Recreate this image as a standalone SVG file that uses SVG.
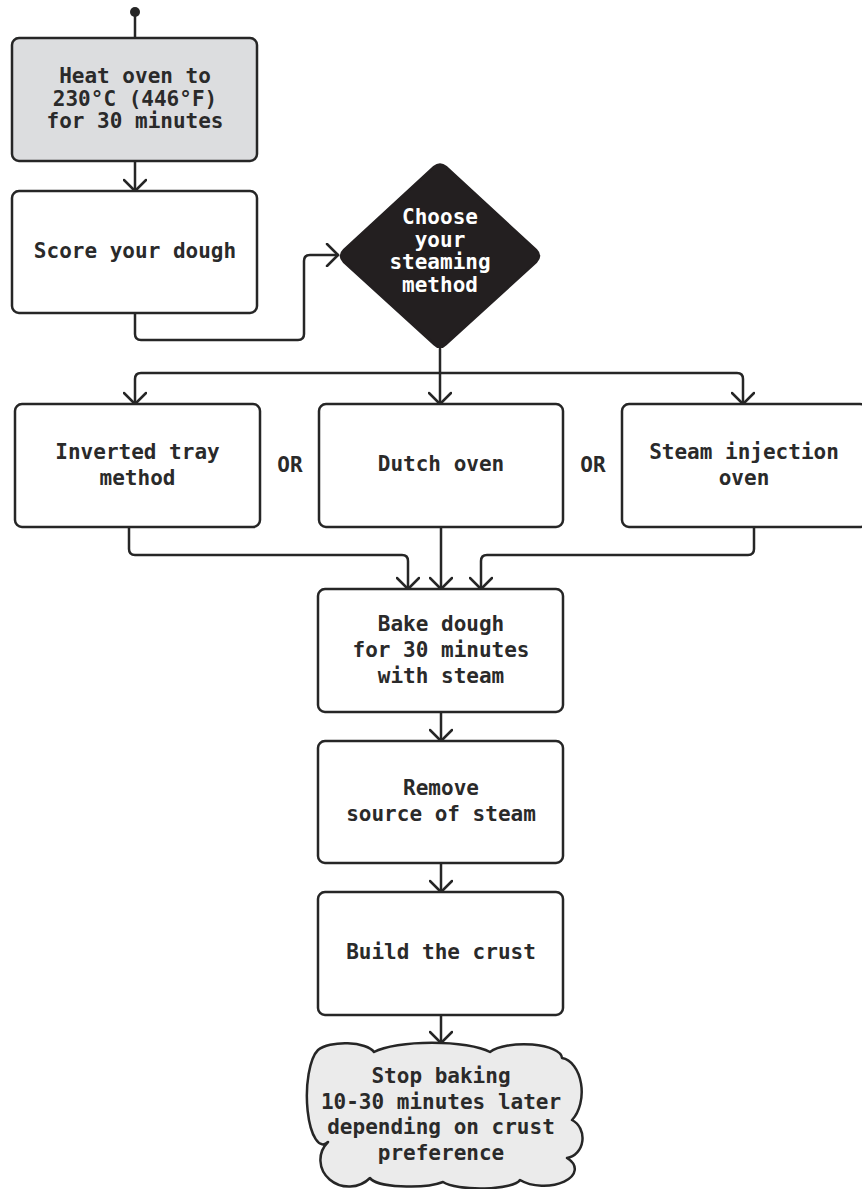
<svg xmlns="http://www.w3.org/2000/svg" width="862" height="1189" viewBox="0 0 862 1189">
<style>
.box{fill:#ffffff;stroke:#262626;stroke-width:2.5}
.grey{fill:#dcdddf}
.cloud{fill:#ebebeb;stroke:#262626;stroke-width:2.5;stroke-linejoin:round}
.dia{fill:#231f20;stroke:#231f20;stroke-width:2.5;stroke-linejoin:round}
.t{font-family:"DejaVu Sans Mono","Liberation Mono",monospace;font-weight:bold;font-size:21px;letter-spacing:0px;fill:#2a2a2a;text-anchor:middle}
.w{fill:#ffffff}
.c{fill:none;stroke:#262626;stroke-width:2.5;stroke-linejoin:round;stroke-linecap:round}
</style>
<defs>
<marker id="ah" viewBox="0 0 22 24" refX="20" refY="12" markerWidth="22" markerHeight="24" markerUnits="userSpaceOnUse" orient="auto">
<path d="M9 1 L20 12 L9 23" fill="none" stroke="#262626" stroke-width="2.5" stroke-linecap="round" stroke-linejoin="round"/>
</marker>
</defs>
<g id="connectors">
<circle cx="135" cy="12" r="5" fill="#262626"/>
<path class="c" d="M135 12 V38"/>
<path class="c" marker-end="url(#ah)" d="M135 161 V191"/>
<path class="c" marker-end="url(#ah)" d="M135 313 V334 Q135 340 141 340 H298 Q304 340 304 334 V261 Q304 255 310 255 H338"/>
<path class="c" d="M440 349 V373"/>
<path class="c" marker-end="url(#ah)" d="M440 373 H141 Q135 373 135 379 V404"/>
<path class="c" marker-end="url(#ah)" d="M440 373 V404"/>
<path class="c" marker-end="url(#ah)" d="M440 373 H737 Q743 373 743 379 V404"/>
<path class="c" marker-end="url(#ah)" d="M129 527 V549 Q129 555 135 555 H402 Q408 555 408 561 V589"/>
<path class="c" marker-end="url(#ah)" d="M441 527 V589"/>
<path class="c" marker-end="url(#ah)" d="M754 527 V549 Q754 555 748 555 H487 Q481 555 481 561 V589"/>
<path class="c" marker-end="url(#ah)" d="M441 712 V741"/>
<path class="c" marker-end="url(#ah)" d="M441 863 V892"/>
<path class="c" marker-end="url(#ah)" d="M441 1015 V1043"/>
</g>
<g id="heat">
<rect class="box grey" x="12" y="38" width="245" height="123" rx="7"/>
<text class="t" x="135" y="83">Heat oven to</text>
<text class="t" x="135" y="105.5">230°C (446°F)</text>
<text class="t" x="135" y="128">for 30 minutes</text>
</g>
<g id="score">
<rect class="box" x="12" y="191" width="245" height="122" rx="7"/>
<text class="t" x="135" y="258">Score your dough</text>
</g>
<g id="choose">
<path class="dia" d="M344 250 L434 167 Q440 162 446 167 L536 250 Q542 256 536 262 L446 344 Q440 350 434 344 L344 262 Q338 256 344 250 Z"/>
<text class="t w" x="440" y="224">Choose</text>
<text class="t w" x="440" y="246.5">your</text>
<text class="t w" x="440" y="269">steaming</text>
<text class="t w" x="440" y="291.5">method</text>
</g>
<g id="tray">
<rect class="box" x="15" y="404" width="245" height="123" rx="7"/>
<text class="t" x="137.5" y="458.5">Inverted tray</text>
<text class="t" x="137.5" y="484.5">method</text>
</g>
<g id="or1"><text class="t" x="290" y="472">OR</text></g>
<g id="dutch">
<rect class="box" x="319" y="404" width="244" height="123" rx="7"/>
<text class="t" x="441" y="471">Dutch oven</text>
</g>
<g id="or2"><text class="t" x="593" y="472">OR</text></g>
<g id="injection">
<rect class="box" x="622" y="404" width="245" height="123" rx="7"/>
<text class="t" x="744" y="458.5">Steam injection</text>
<text class="t" x="744" y="484.5">oven</text>
</g>
<g id="bake">
<rect class="box" x="318" y="589" width="245" height="123" rx="7"/>
<text class="t" x="441" y="630.5">Bake dough</text>
<text class="t" x="441" y="656.5">for 30 minutes</text>
<text class="t" x="441" y="682.5">with steam</text>
</g>
<g id="remove">
<rect class="box" x="318" y="741" width="245" height="122" rx="7"/>
<text class="t" x="441" y="795">Remove</text>
<text class="t" x="441" y="821">source of steam</text>
</g>
<g id="build">
<rect class="box" x="318" y="892" width="245" height="123" rx="7"/>
<text class="t" x="441" y="959">Build the crust</text>
</g>
<g id="stop">
<path class="cloud" d="M318 1050 A30 12 0 0 1 374 1052 A64 16 0 0 1 490 1052 A38 14 0 0 1 562 1058 A22 34 0 0 1 572 1120 A18 20 0 0 1 567 1158 A30 16 0 0 1 520 1180 A40 10 0 0 1 443 1182 A40 10 0 0 1 370 1178 A28 26 0 0 1 328 1142 A16 48 0 0 1 318 1050 Z"/>
<text class="t" x="441" y="1083">Stop baking</text>
<text class="t" x="441" y="1108.5">10-30 minutes later</text>
<text class="t" x="441" y="1134">depending on crust</text>
<text class="t" x="441" y="1159.5">preference</text>
</g>
</svg>
